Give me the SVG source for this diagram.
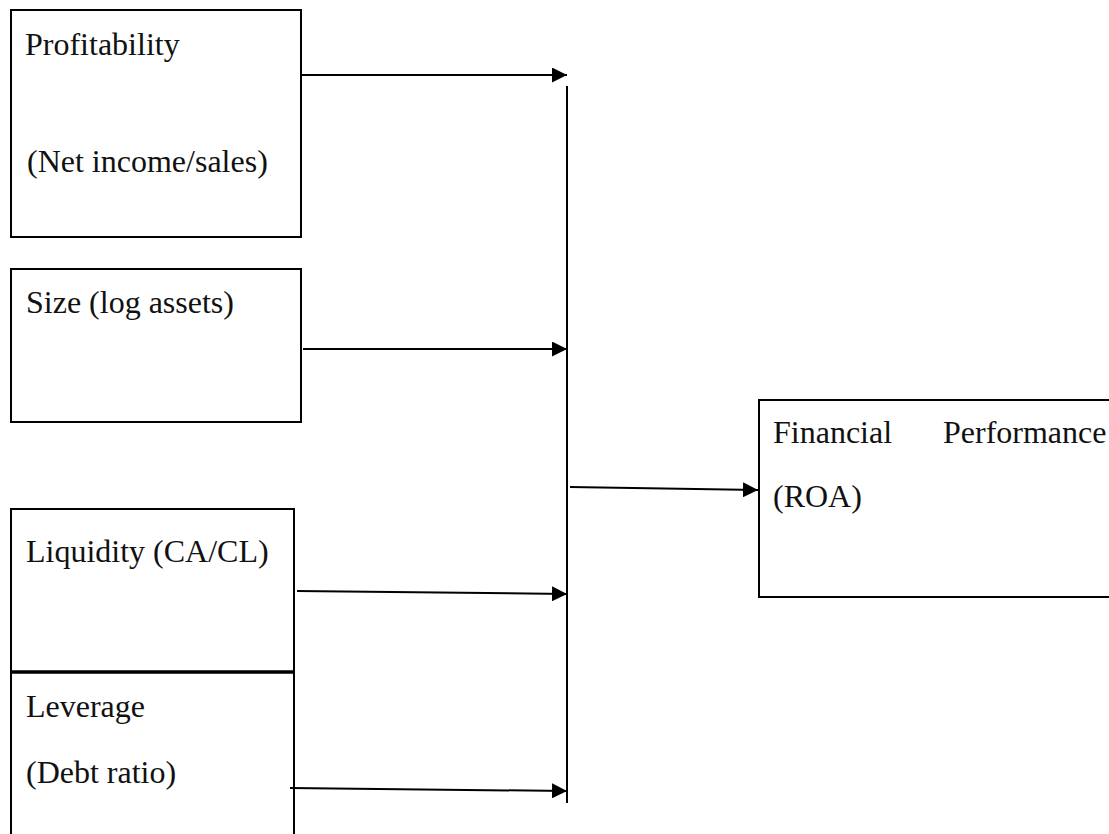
<svg xmlns="http://www.w3.org/2000/svg" width="1109" height="834" viewBox="0 0 1109 834">
<style>
.box{fill:#fff;stroke:#000;stroke-width:2}
.t{font-family:"Liberation Serif","Times New Roman",serif;font-size:32px;fill:#111}
.c{stroke:#000;stroke-width:2;fill:none}
</style>
<defs>
<marker id="ah" viewBox="0 0 15 15" refX="15" refY="7.5" markerWidth="15" markerHeight="15" markerUnits="userSpaceOnUse" orient="auto">
<path d="M0,0 L15,7.5 L0,15 z" fill="#000"/>
</marker>
</defs>
<rect width="1109" height="834" fill="#fff"/>
<g id="profitability">
<rect class="box" x="11" y="10" width="290" height="227"/>
<text class="t" x="25" y="55">Profitability</text>
<text class="t" x="27" y="172">(Net income/sales)</text>
</g>
<g id="size">
<rect class="box" x="11" y="269" width="290" height="153"/>
<text class="t" x="26" y="313">Size (log assets)</text>
</g>
<g id="liquidity">
<path class="box" d="M11,672 L11,509 L294,509 L294,672"/>
<text class="t" x="26" y="562">Liquidity (CA/CL)</text>
</g>
<g id="leverage">
<path class="box" d="M11,840 L11,672 L294,672 L294,840"/>
<line x1="11" y1="672" x2="294" y2="672" stroke="#000" stroke-width="3.5"/>
<text class="t" x="26" y="717">Leverage</text>
<text class="t" x="26" y="783">(Debt ratio)</text>
</g>
<g id="financial-performance">
<rect class="box" x="759" y="400" width="360" height="197"/>
<text class="t" x="773" y="443">Financial</text>
<text class="t" x="943" y="443">Performance</text>
<text class="t" x="773" y="507">(ROA)</text>
</g>
<g id="connectors">
<line class="c" x1="567" y1="86" x2="567" y2="803"/>
<line class="c" x1="302" y1="75" x2="567" y2="75" marker-end="url(#ah)"/>
<line class="c" x1="303" y1="349" x2="567" y2="349" marker-end="url(#ah)"/>
<line class="c" x1="297" y1="591" x2="567" y2="594" marker-end="url(#ah)"/>
<line class="c" x1="290" y1="788" x2="567" y2="791" marker-end="url(#ah)"/>
<line class="c" x1="570" y1="487" x2="758" y2="490" marker-end="url(#ah)"/>
</g>
</svg>
